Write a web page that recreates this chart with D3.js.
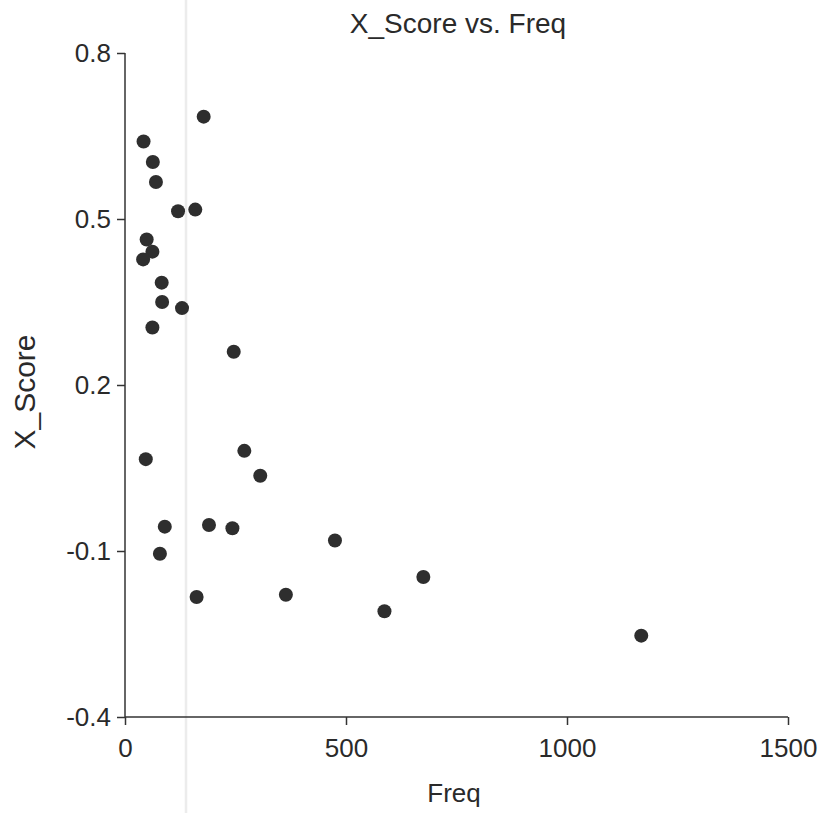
<!DOCTYPE html>
<html>
<head>
<meta charset="utf-8">
<script src="https://cdn.jsdelivr.net/npm/d3@7"></script>
<style>
  html, body { margin: 0; padding: 0; background: #ffffff; }
  svg { display: block; }
  text { font-family: "Liberation Sans", Arial, sans-serif; fill: #2a2a2a; }
</style>
</head>
<body>
<svg id="chart" width="822" height="813"></svg>
<script>
// ---- data ----
const freq   = [178, 42, 63, 70, 120, 159, 49, 62, 41, 83, 84, 129, 62, 246,
                47, 270, 306, 90, 190, 243, 79, 475, 162, 364, 587, 675, 1168];
const xScore = [0.685, 0.640, 0.603, 0.567, 0.514, 0.517, 0.463, 0.441, 0.427, 0.385, 0.350, 0.339, 0.304, 0.260,
                0.066, 0.081, 0.036, -0.056, -0.053, -0.059, -0.105, -0.081, -0.183, -0.179, -0.209, -0.147, -0.253];
const xTicks = [0, 500, 1000, 1500];
const yTicks = [-0.4, -0.1, 0.2, 0.5, 0.8];
const yTickLabels = ["-0.4", "-0.1", "0.2", "0.5", "0.8"];
const titleText = "X_Score vs. Freq";
const xLabel = "Freq";
const yLabel = "X_Score";

// ---- chart ----
const svg = d3.select("#chart");
const x = d3.scaleLinear().domain([0, 1500]).range([125, 788]);
const y = d3.scaleLinear().domain([-0.4, 0.8]).range([717, 53]);

// faint scan fold line
svg.append("line")
  .attr("x1", 186).attr("x2", 186).attr("y1", 0).attr("y2", 813)
  .attr("stroke", "#ececec").attr("stroke-width", 2.5);

// y axis
const yAxis = d3.axisLeft(y).tickValues(yTicks)
  .tickFormat((d, i) => yTickLabels[i]).tickSize(8).tickPadding(6);
const gy = svg.append("g").attr("transform", `translate(${x(0)},0)`).call(yAxis);
gy.select(".domain").attr("stroke", "#333").attr("stroke-width", 1.5).attr("d", `M0,${y(0.8)}V${y(-0.4)}`);
gy.selectAll(".tick line").attr("stroke", "#333").attr("stroke-width", 1.5);
gy.selectAll(".tick text").style("font-size", "26px").attr("fill", "#2a2a2a")
  .style("font-family", '"Liberation Sans", Arial, sans-serif');

// x axis
const xAxis = d3.axisBottom(x).tickValues(xTicks).tickFormat(d3.format("d")).tickSize(8).tickPadding(14);
const gx = svg.append("g").attr("transform", `translate(0,${y(-0.4)})`).call(xAxis);
gx.select(".domain").attr("stroke", "#333").attr("stroke-width", 1.5).attr("d", `M${x(0)},0H${x(1500)}`);
gx.selectAll(".tick line").attr("stroke", "#333").attr("stroke-width", 1.5);
gx.selectAll(".tick text").style("font-size", "26px").attr("fill", "#2a2a2a")
  .style("font-family", '"Liberation Sans", Arial, sans-serif');

// points
svg.append("g").selectAll("circle")
  .data(freq.map((f, i) => ({ f, s: xScore[i] })))
  .join("circle")
  .attr("cx", d => x(d.f))
  .attr("cy", d => y(d.s))
  .attr("r", 7)
  .attr("fill", "#2e2e2e");

// title
svg.append("text")
  .attr("x", 458).attr("y", 33)
  .attr("text-anchor", "middle")
  .style("font-size", "28px")
  .text(titleText);

// x label
svg.append("text")
  .attr("x", 454).attr("y", 802)
  .attr("text-anchor", "middle")
  .style("font-size", "26px")
  .text(xLabel);

// y label
svg.append("text")
  .attr("transform", "translate(35,392) rotate(-90)")
  .attr("text-anchor", "middle")
  .style("font-size", "30px")
  .text(yLabel);
</script>
</body>
</html>
